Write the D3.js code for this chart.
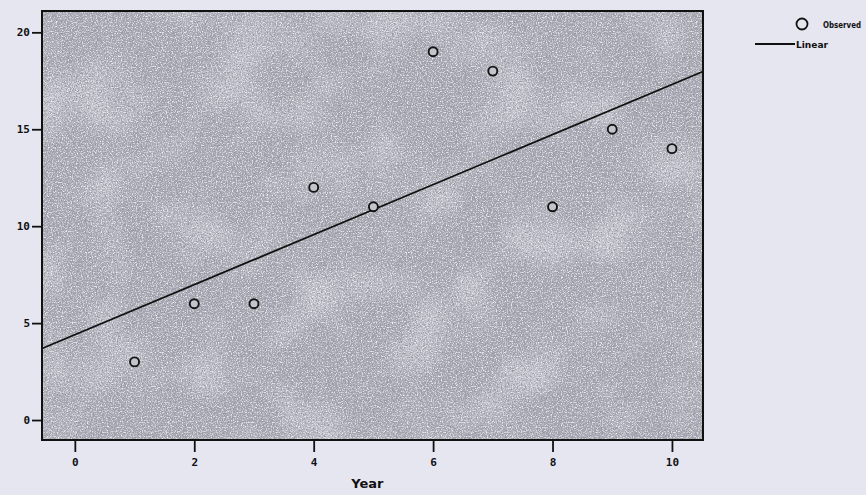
<!DOCTYPE html>
<html>
<head>
<meta charset="utf-8">
<script src="https://cdn.jsdelivr.net/npm/d3@7"></script>
<style>
  html, body { margin: 0; padding: 0; background: #e6e6f1; }
  svg { display: block; }
  text { font-family: "DejaVu Sans", sans-serif; font-weight: bold; fill: #111; }
</style>
</head>
<body>
<svg id="chart" width="866" height="495"></svg>
<script>
// Data
const years = [1, 2, 3, 4, 5, 6, 7, 8, 9, 10];
const observed = [3, 6, 6, 12, 11, 19, 18, 11, 15, 14];
const xTicks = [0, 2, 4, 6, 8, 10];
const yTicks = [0, 5, 10, 15, 20];
const legendLabels = ["Observed", "Linear"];
const xTitle = "Year";

const svg = d3.select("#chart");
const plot = { left: 42, top: 11, right: 703, bottom: 440 };

const x = d3.scaleLinear().domain([-0.55, 10.52]).range([plot.left, plot.right]);
const y = d3.scaleLinear().domain([-1.03, 21.1]).range([plot.bottom, plot.top]);

// Noise texture for the scanned-grey plot area
const defs = svg.append("defs");
function noiseFilter(id, freq, seed, rgb, a, b, oct) {
  const f = defs.append("filter").attr("id", id).attr("x", 0).attr("y", 0).attr("width", 1).attr("height", 1);
  f.append("feTurbulence").attr("type", "fractalNoise").attr("baseFrequency", freq).attr("numOctaves", oct).attr("seed", seed).attr("result", "t");
  f.append("feColorMatrix").attr("in", "t").attr("type", "matrix")
    .attr("values", `0 0 0 0 ${rgb[0]}  0 0 0 0 ${rgb[1]}  0 0 0 0 ${rgb[2]}  ${a} 0 0 0 ${b}`).attr("result", "n");
  f.append("feComposite").attr("in", "n").attr("in2", "SourceGraphic").attr("operator", "in");
}
noiseFilter("blotchDark", 0.012, 7, [0.4, 0.4, 0.45], 1.6, -0.65, 2);
noiseFilter("blotchLight", 0.015, 11, [0.82, 0.82, 0.87], 1.3, -0.6, 2);
noiseFilter("specDark", 0.75, 3, [0.3, 0.3, 0.34], 3.2, -1.45, 2);
noiseFilter("specLight", 0.8, 5, [0.85, 0.85, 0.9], 3.0, -1.4, 2);

const pw = plot.right - plot.left, ph = plot.bottom - plot.top;
svg.append("rect").attr("x", plot.left).attr("y", plot.top).attr("width", pw).attr("height", ph).attr("fill", "#a6a6b2");
["blotchDark", "blotchLight", "specDark", "specLight"].forEach(id => {
  svg.append("rect").attr("x", plot.left).attr("y", plot.top).attr("width", pw).attr("height", ph)
    .attr("fill", "#fff").attr("filter", `url(#${id})`);
});

// Linear fit (least squares from the observed data)
const mx = d3.mean(years), my = d3.mean(observed);
const slope = d3.sum(years, (d, i) => (d - mx) * (observed[i] - my)) / d3.sum(years, d => (d - mx) ** 2);
const intercept = my - slope * mx;
const [x0, x1] = x.domain();
svg.append("line")
  .attr("x1", x(x0)).attr("y1", y(intercept + slope * x0))
  .attr("x2", x(x1)).attr("y2", y(intercept + slope * x1))
  .attr("stroke", "#111").attr("stroke-width", 1.8);

// Observed points
svg.append("g").selectAll("circle")
  .data(years.map((d, i) => [d, observed[i]]))
  .join("circle")
  .attr("cx", d => x(d[0])).attr("cy", d => y(d[1]))
  .attr("r", 4.5)
  .attr("fill", "#c4c4cc").attr("stroke", "#151515").attr("stroke-width", 1.9);

// Frame
svg.append("rect")
  .attr("x", plot.left).attr("y", plot.top).attr("width", pw).attr("height", ph)
  .attr("fill", "none").attr("stroke", "#111").attr("stroke-width", 2);

// Axes
const yAxis = d3.axisLeft(y).tickValues(yTicks).tickSize(10).tickPadding(2).tickFormat(d3.format("d"));
const gy = svg.append("g").attr("transform", `translate(${plot.left},0)`).call(yAxis);
gy.select(".domain").remove();
gy.selectAll(".tick line").attr("stroke", "#111").attr("stroke-width", 1.8);
gy.selectAll(".tick text").style("font-size", "11px").style("font-weight", "bold").attr("fill", "#111")
  .style("font-family", "'DejaVu Sans Mono', monospace");

const xAxis = d3.axisBottom(x).tickValues(xTicks).tickSize(12).tickPadding(6).tickFormat(d3.format("d"));
const gx = svg.append("g").attr("transform", `translate(0,${plot.bottom})`).call(xAxis);
gx.select(".domain").remove();
gx.selectAll(".tick line").attr("stroke", "#111").attr("stroke-width", 1.8);
gx.selectAll(".tick text").style("font-size", "11px").style("font-weight", "bold").attr("fill", "#111")
  .style("font-family", "'DejaVu Sans Mono', monospace");

svg.append("text")
  .attr("x", (x(4) + x(6)) / 2 - 6).attr("y", 488)
  .attr("text-anchor", "middle")
  .style("font-size", "13px")
  .text(xTitle);

// Legend
const lg = svg.append("g");
lg.append("circle").attr("cx", 802).attr("cy", 24).attr("r", 5.5)
  .attr("fill", "none").attr("stroke", "#111").attr("stroke-width", 1.8);
lg.append("text").attr("x", 823).attr("y", 27.5).style("font-size", "8px")
  .attr("textLength", 38).attr("lengthAdjust", "spacingAndGlyphs").text(legendLabels[0]);
lg.append("line").attr("x1", 755).attr("x2", 795).attr("y1", 44).attr("y2", 44)
  .attr("stroke", "#111").attr("stroke-width", 1.8);
lg.append("text").attr("x", 796).attr("y", 47.5).style("font-size", "8px")
  .attr("textLength", 32).attr("lengthAdjust", "spacingAndGlyphs").text(legendLabels[1]);
</script>
</body>
</html>
